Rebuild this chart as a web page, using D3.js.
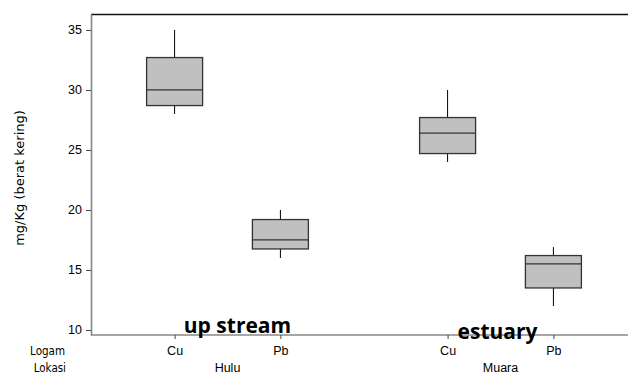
<!DOCTYPE html>
<html>
<head>
<meta charset="utf-8">
<script src="https://cdn.jsdelivr.net/npm/d3@7"></script>
<style>
  body { margin: 0; background: #fff; }
  svg { display: block; font-family: "DejaVu Sans", Verdana, sans-serif; }
  .row-label { font-family: "DejaVu Sans Condensed", "DejaVu Sans", sans-serif; font-stretch: condensed; }
</style>
</head>
<body>
<svg id="chart"></svg>
<script>
const width = 628;
const height = 374;
const margin = { top: 14, left: 91, bottom: 39, right: 0 };

// data
const lokasi = ["Hulu", "Hulu", "Muara", "Muara"];
const logam = ["Cu", "Pb", "Cu", "Pb"];
const whiskerLow = [28, 16, 24, 12];
const q1 = [28.7, 16.75, 24.7, 13.5];
const median = [30, 17.5, 26.4, 15.5];
const q3 = [32.7, 19.2, 27.7, 16.2];
const whiskerHigh = [35, 20, 30, 16.9];
const yTicks = [10, 15, 20, 25, 30, 35];
const lokasiNames = ["Hulu", "Muara"];
const logamNames = ["Cu", "Pb"];
const notes = [
  { lokasi: "Hulu", text: "up stream", value: 9.75, dx: 10 },
  { lokasi: "Muara", text: "estuary", value: 9.25, dx: -3 }
];

const boxes = lokasi.map((l, i) => ({
  lokasi: l, logam: logam[i],
  lo: whiskerLow[i], q1: q1[i], med: median[i], q3: q3[i], hi: whiskerHigh[i]
}));

const svg = d3.select("#chart")
  .attr("width", width)
  .attr("height", height);

// scales
const y = d3.scaleLinear()
  .domain([9.58, 36.33])
  .range([height - margin.bottom, margin.top]);

const outer = d3.scaleBand()
  .domain(lokasiNames)
  .range([margin.left, margin.left + 546])
  .padding(0);

const inner = d3.scalePoint()
  .domain(logamNames)
  .range([0, outer.bandwidth()])
  .padding(0.79);

const xPos = d => outer(d.lokasi) + inner(d.logam);
const boxW = 56;

// frame: top line black, left / bottom axis grey
svg.append("line")
  .attr("x1", margin.left).attr("x2", width)
  .attr("y1", margin.top + 0.5).attr("y2", margin.top + 0.5)
  .attr("stroke", "#111").attr("stroke-width", 1.4);

// y axis
const yAxis = d3.axisLeft(y)
  .tickValues(yTicks)
  .tickSize(5)
  .tickSizeOuter(0)
  .tickPadding(4);

const gy = svg.append("g")
  .attr("transform", `translate(${margin.left},0)`)
  .call(yAxis);
gy.select(".domain").attr("stroke", "#888").attr("stroke-width", 1.6);
gy.selectAll(".tick line").attr("stroke", "#444");
gy.selectAll(".tick text").attr("fill", "#000").style("font-size", "12.5px");

// x axis baseline
svg.append("line")
  .attr("x1", margin.left).attr("x2", width)
  .attr("y1", height - margin.bottom).attr("y2", height - margin.bottom)
  .attr("stroke", "#888").attr("stroke-width", 1.6);

// x ticks per lokasi
lokasiNames.forEach(l => {
  const g = svg.append("g")
    .attr("transform", `translate(${outer(l)},${height - margin.bottom})`)
    .call(d3.axisBottom(inner).tickSize(4).tickSizeOuter(0).tickPadding(7));
  g.select(".domain").remove();
  g.selectAll(".tick line").attr("stroke", "#444");
  g.selectAll(".tick text").attr("fill", "#000").style("font-size", "12.5px");
  g.append("text")
    .attr("x", outer.bandwidth() / 2)
    .attr("y", 37)
    .attr("text-anchor", "middle")
    .attr("fill", "#000")
    .style("font-size", "12.5px")
    .text(l);
});

// row labels
svg.append("text")
  .attr("class", "row-label")
  .attr("x", 65).attr("y", 355)
  .attr("text-anchor", "end")
  .style("font-size", "11.5px")
  .text("Logam");
svg.append("text")
  .attr("class", "row-label")
  .attr("x", 66).attr("y", 372)
  .attr("text-anchor", "end")
  .style("font-size", "11.5px")
  .text("Lokasi");

// y title
svg.append("text")
  .attr("transform", `translate(24,${178}) rotate(-90)`)
  .attr("text-anchor", "middle")
  .style("font-size", "13px")
  .text("mg/Kg (berat kering)");

// boxes
const bx = svg.append("g").selectAll("g")
  .data(boxes)
  .enter()
  .append("g");

bx.append("line")
  .attr("x1", xPos).attr("x2", xPos)
  .attr("y1", d => y(d.hi)).attr("y2", d => y(d.q3))
  .attr("stroke", "#000");
bx.append("line")
  .attr("x1", xPos).attr("x2", xPos)
  .attr("y1", d => y(d.q1)).attr("y2", d => y(d.lo))
  .attr("stroke", "#000");
bx.append("rect")
  .attr("x", d => xPos(d) - boxW / 2)
  .attr("y", d => y(d.q3))
  .attr("width", boxW)
  .attr("height", d => y(d.q1) - y(d.q3))
  .attr("fill", "#c0c0c0")
  .attr("stroke", "#333")
  .attr("stroke-width", 1.3);
bx.append("line")
  .attr("x1", d => xPos(d) - boxW / 2).attr("x2", d => xPos(d) + boxW / 2)
  .attr("y1", d => y(d.med)).attr("y2", d => y(d.med))
  .attr("stroke", "#333")
  .attr("stroke-width", 1.3);

// annotations
svg.append("g").selectAll("text")
  .data(notes)
  .enter()
  .append("text")
  .attr("x", d => outer(d.lokasi) + outer.bandwidth() / 2 + d.dx)
  .attr("y", d => y(d.value))
  .attr("text-anchor", "middle")
  .style("font-family", "'Open Sans', sans-serif")
  .style("font-weight", "bold")
  .style("font-size", "21px")
  .text(d => d.text);
</script>
</body>
</html>
